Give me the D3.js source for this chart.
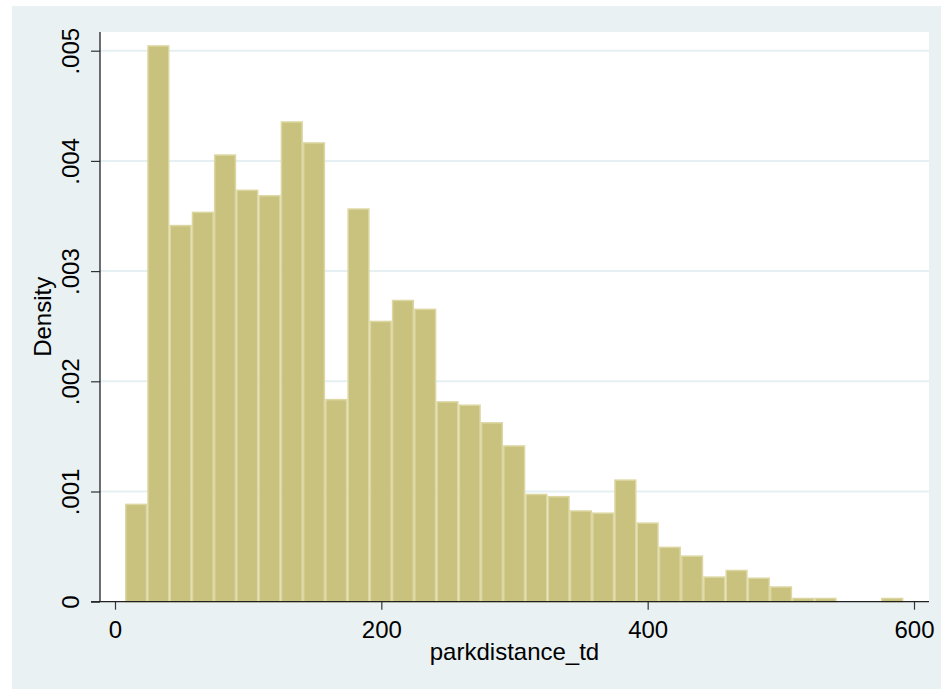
<!DOCTYPE html>
<html>
<head>
<meta charset="utf-8">
<script src="https://cdn.jsdelivr.net/npm/d3@7"></script>
<style>
  html, body { margin: 0; padding: 0; background: #ffffff; }
  svg { display: block; }
  text { font-family: "Liberation Sans", Arial, sans-serif; fill: #000; }
</style>
</head>
<body>
<svg id="chart" width="941" height="690"></svg>
<script>
// Histogram of parkdistance_td: 35 equal-width bins, density scale
const binStart = 7.5;
const binWidth = 16.7;
const densities = [
  0.00089, 0.00505, 0.00342, 0.00354, 0.00406, 0.00374, 0.00369, 0.00436,
  0.00417, 0.00184, 0.00357, 0.00255, 0.00274, 0.00266, 0.00182, 0.00179,
  0.00163, 0.00142, 0.00098, 0.00096, 0.00083, 0.00081, 0.00111, 0.00072,
  0.00050, 0.00042, 0.00023, 0.00029, 0.00022, 0.00014, 0.000036, 0.000036,
  0, 0, 0.000036
];
const xTicks = [0, 200, 400, 600];
const yTicks = [0, 0.001, 0.002, 0.003, 0.004, 0.005];
const yTickLabels = ["0", ".001", ".002", ".003", ".004", ".005"];
const xTitle = "parkdistance_td";
const yTitle = "Density";

const bins = densities.map((d, i) => ({
  x0: binStart + i * binWidth,
  x1: binStart + (i + 1) * binWidth,
  density: d
}));

const svg = d3.select("#chart");
const W = 941, H = 690;
const plot = { left: 100, right: 929, top: 32, bottom: 601.7 };

const x = d3.scaleLinear().domain([0, 600]).range([115, 914]);
const y = d3.scaleLinear().domain([0, 0.005]).range([plot.bottom, 50.7]);

// outer graph region
svg.append("rect")
  .attr("x", 12).attr("y", 6)
  .attr("width", W - 12).attr("height", 683)
  .attr("fill", "#e9f1f3");

// plot region
svg.append("rect")
  .attr("x", plot.left).attr("y", plot.top)
  .attr("width", plot.right - plot.left)
  .attr("height", plot.bottom - plot.top)
  .attr("fill", "#ffffff");

// horizontal grid lines
svg.append("g")
  .selectAll("line")
  .data(yTicks.filter(t => t > 0))
  .join("line")
  .attr("x1", plot.left).attr("x2", plot.right)
  .attr("y1", d => y(d)).attr("y2", d => y(d))
  .attr("stroke", "#e6eff2")
  .attr("stroke-width", 2);

// bars
svg.append("g")
  .selectAll("rect")
  .data(bins.filter(b => b.density > 0))
  .join("rect")
  .attr("x", d => x(d.x0) + 0.75)
  .attr("width", d => x(d.x1) - x(d.x0) - 1.5)
  .attr("y", d => y(d.density) + 0.75)
  .attr("height", d => Math.max(0, y(0) - y(d.density) - 0.75))
  .attr("fill", "#c9c27e")
  .attr("stroke", "#dcd7a2")
  .attr("stroke-width", 1.5);

// x axis
const xAxis = svg.append("g")
  .attr("transform", `translate(0,${plot.bottom})`)
  .call(d3.axisBottom(x).tickValues(xTicks).tickSize(8).tickPadding(11).tickFormat(d3.format("d")));
xAxis.select(".domain").remove();
xAxis.append("line")
  .attr("x1", plot.left - 9).attr("x2", plot.right)
  .attr("y1", 0).attr("y2", 0)
  .attr("stroke", "#222").attr("stroke-width", 1.3);
xAxis.selectAll(".tick line").attr("stroke", "#333").attr("stroke-width", 1.2);
xAxis.selectAll(".tick text")
  .style("font-family", "'Liberation Sans', Arial, sans-serif")
  .style("font-size", "24px")
  .attr("fill", "#000");

// y axis with rotated tick labels
const yAxis = svg.append("g")
  .attr("transform", `translate(${plot.left},0)`)
  .call(d3.axisLeft(y).tickValues(yTicks).tickSize(9).tickFormat((d, i) => yTickLabels[i]));
yAxis.select(".domain").remove();
yAxis.append("line")
  .attr("x1", 0).attr("x2", 0)
  .attr("y1", plot.top).attr("y2", plot.bottom)
  .attr("stroke", "#222").attr("stroke-width", 1.3);
yAxis.selectAll(".tick line").attr("stroke", "#333").attr("stroke-width", 1.2);
yAxis.selectAll(".tick text")
  .attr("x", null).attr("dy", null)
  .attr("transform", "translate(-21,0) rotate(-90)")
  .attr("text-anchor", "middle")
  .style("font-family", "'Liberation Sans', Arial, sans-serif")
  .style("font-size", "24px")
  .attr("fill", "#000");

// axis titles
svg.append("text")
  .attr("x", (plot.left + plot.right) / 2)
  .attr("y", 660)
  .attr("text-anchor", "middle")
  .style("font-size", "24px")
  .text(xTitle);

svg.append("text")
  .attr("transform", `translate(50.5,${(plot.top + plot.bottom) / 2}) rotate(-90)`)
  .attr("text-anchor", "middle")
  .style("font-size", "24px")
  .text(yTitle);
</script>
</body>
</html>
